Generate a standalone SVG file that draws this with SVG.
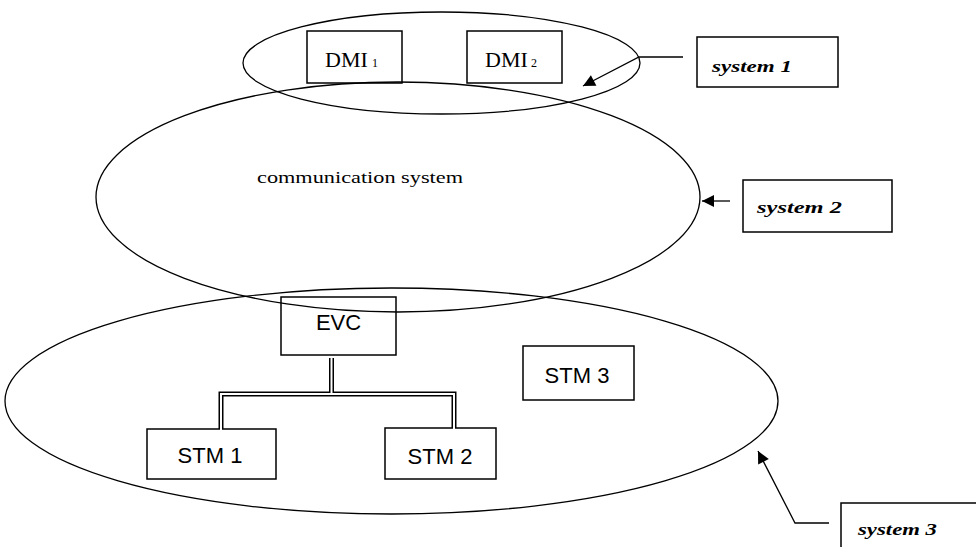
<svg xmlns="http://www.w3.org/2000/svg" width="976" height="547" viewBox="0 0 976 547">
<defs>
<marker id="ah" viewBox="0 0 10 10" refX="10" refY="5" markerWidth="15" markerHeight="12" markerUnits="userSpaceOnUse" orient="auto">
<path d="M0,0 L10,5 L0,10 z" fill="#000"/>
</marker>
<style>
.sh{fill:none;stroke:#000;stroke-width:1.3}
.bx{fill:none;stroke:#000;stroke-width:1.5}
.sans{font-family:"Liberation Sans",Arial,sans-serif;font-size:22px;fill:#000}
.serif{font-family:"Liberation Serif","Times New Roman",serif;fill:#000}
.lbl{font-family:"Liberation Serif","Times New Roman",serif;font-size:17px;font-weight:bold;font-style:italic;fill:#000}
.ln{fill:none;stroke:#000;stroke-width:1.3}
</style>
</defs>
<rect width="976" height="547" fill="#fff"/>

<g id="system3-ellipse"><ellipse class="sh" cx="391.5" cy="401" rx="386.5" ry="113"/></g>
<g id="system2-ellipse"><ellipse class="sh" cx="398" cy="197" rx="302" ry="115"/>
<text class="serif" x="257" y="183" font-size="16" textLength="206" lengthAdjust="spacingAndGlyphs">communication system</text></g>
<g id="system1-ellipse"><ellipse class="sh" cx="441.5" cy="63" rx="198.5" ry="51"/></g>

<g id="dmi1"><rect class="bx" x="307" y="31" width="95" height="52"/>
<text class="serif" x="325" y="67" font-size="22">DMI</text><text class="serif" x="372" y="67" font-size="12">1</text></g>
<g id="dmi2"><rect class="bx" x="467" y="31" width="95" height="52"/>
<text class="serif" x="485" y="67" font-size="22">DMI</text><text class="serif" x="531" y="67" font-size="12">2</text></g>

<g id="evc"><rect class="bx" x="281" y="297" width="115" height="58"/><text class="sans" x="338.5" y="330" text-anchor="middle">EVC</text></g>
<g id="stm1"><rect class="bx" x="147" y="429" width="129" height="50"/><text class="sans" x="210" y="463" text-anchor="middle">STM 1</text></g>
<g id="stm2"><rect class="bx" x="385" y="428" width="111" height="51"/><text class="sans" x="440" y="464" text-anchor="middle">STM 2</text></g>
<g id="stm3"><rect class="bx" x="523" y="346" width="111" height="54"/><text class="sans" x="577" y="383" text-anchor="middle">STM 3</text></g>

<g id="label-system1"><rect class="bx" x="697" y="37" width="141" height="50"/><text class="lbl" x="712" y="72" textLength="80" lengthAdjust="spacingAndGlyphs">system 1</text></g>
<g id="label-system2"><rect class="bx" x="743" y="180" width="149" height="52"/><text class="lbl" x="757" y="213" textLength="85" lengthAdjust="spacingAndGlyphs">system 2</text></g>
<g id="label-system3"><rect class="bx" x="841" y="503" width="150" height="60"/><text class="lbl" x="858" y="535" textLength="79" lengthAdjust="spacingAndGlyphs">system 3</text></g>

<g id="connectors">
<path d="M221,429 V394 H454 V428 M331.5,358 V394" fill="none" stroke="#000" stroke-width="5"/>
<path d="M221,430 V394 H454 V429 M331.5,357 V394" fill="none" stroke="#fff" stroke-width="2"/>
<path class="ln" d="M683,57 H639 L583,86" marker-end="url(#ah)"/>
<path class="ln" d="M730,201 H702" marker-end="url(#ah)"/>
<path class="ln" d="M829,523 H795 L758,451" marker-end="url(#ah)"/>
</g>
</svg>
